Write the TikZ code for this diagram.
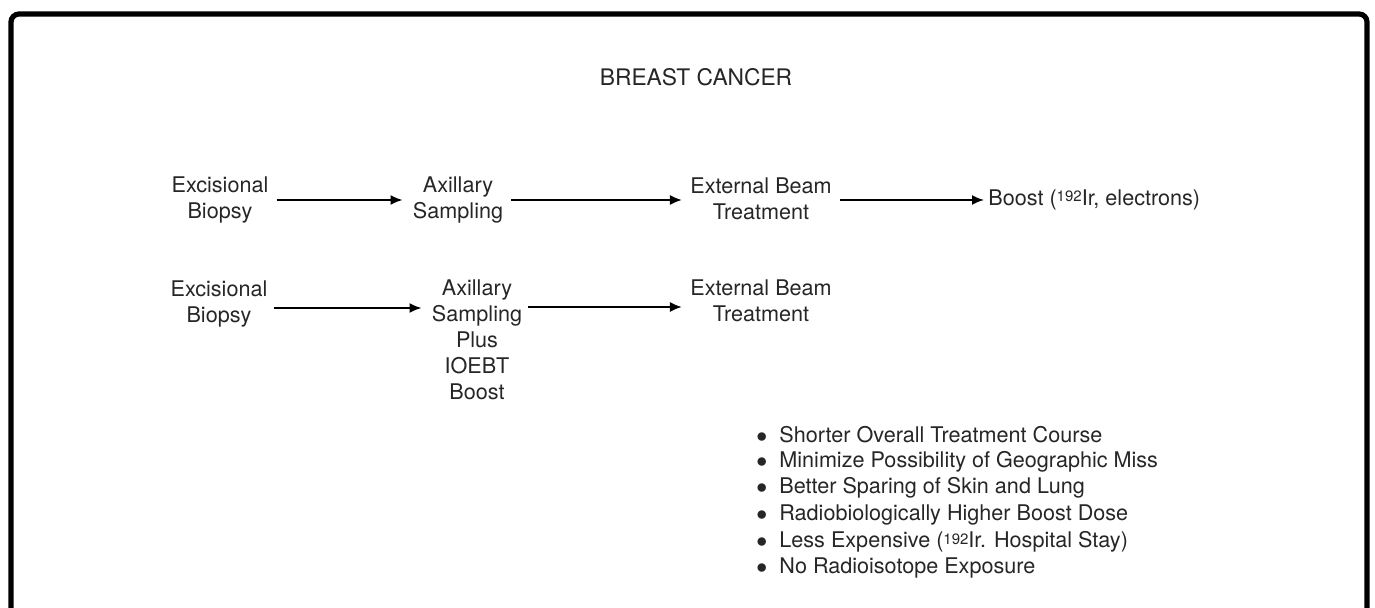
\documentclass[tikz,border=0pt]{standalone}
\usepackage{fontspec}
\setmainfont{TeX Gyre Heros}
\usetikzlibrary{arrows.meta}
\newcommand{\iso}[1]{\raisebox{0.32ex}{\fontsize{7.5}{8}\selectfont #1}}
\tikzset{
  txt/.style={align=center, font=\fontsize{10.8}{13}\selectfont, text=black!85, inner sep=2pt},
  flow/.style={-{Latex[length=6pt,width=5pt]}, line width=0.9pt},
}

\begin{document}
\begin{tikzpicture}[x=0.5pt,y=-0.5pt]
  \useasboundingbox (0,0) rectangle (1375,608);
  \draw[line width=2.6pt, rounded corners=4pt] (11,640) -- (11,14) -- (1367,14) -- (1367,640);

  \node[txt, font=\fontsize{11.4}{13}\selectfont] (title) at (696,77) {BREAST CANCER};

  % conventional course
  \node[txt] (ex1) at (220,200) {Excisional\\Biopsy};
  \node[txt] (ax1) at (458,200) {Axillary\\Sampling};
  \node[txt] (eb1) at (761,199) {External Beam\\Treatment};
  \node[txt, anchor=west] (bst) at (984,200) {Boost (\iso{192}Ir, electrons)};
  \draw[flow, shorten <=2pt, shorten >=3pt] (ex1) -- (ax1);
  \draw[flow, shorten <=2pt, shorten >=2pt] (ax1) -- (eb1.west |- ax1);
  \draw[flow, shorten <=2pt] (eb1.east |- bst) -- (bst);

  % with IOEBT
  \node[txt] (ex2) at (219,304) {Excisional\\Biopsy};
  \node[txt, anchor=north] (ax2) at (477,275) {Axillary\\Sampling\\Plus\\IOEBT\\Boost};
  \node[txt] (eb2) at (761,301) {External Beam\\Treatment};
  \coordinate (a2in) at (ax2.west |- 0,308);
  \coordinate (a2out) at (ax2.east |- 0,307);
  \draw[flow, shorten <=1pt, shorten >=3pt] (ex2.east |- a2in) -- (a2in);
  \draw[flow, shorten <=1pt, shorten >=2pt] (a2out) -- (eb2.west |- a2out);

  % advantages
  \foreach \y/\n/\t in {
      435/p1/Shorter Overall Treatment Course,
      462/p2/Minimize Possibility of Geographic Miss,
      488/p3/Better Sparing of Skin and Lung,
      515/p4/Radiobiologically Higher Boost Dose,
      542/p5/Less Expensive (\iso{192}Ir. Hospital Stay),
      568/p6/No Radioisotope Exposure}{
    \node[txt, anchor=west] (\n) at (752,\y) {\makebox[11.5pt][l]{$\bullet$}\t};
  }
\end{tikzpicture}
\end{document}
